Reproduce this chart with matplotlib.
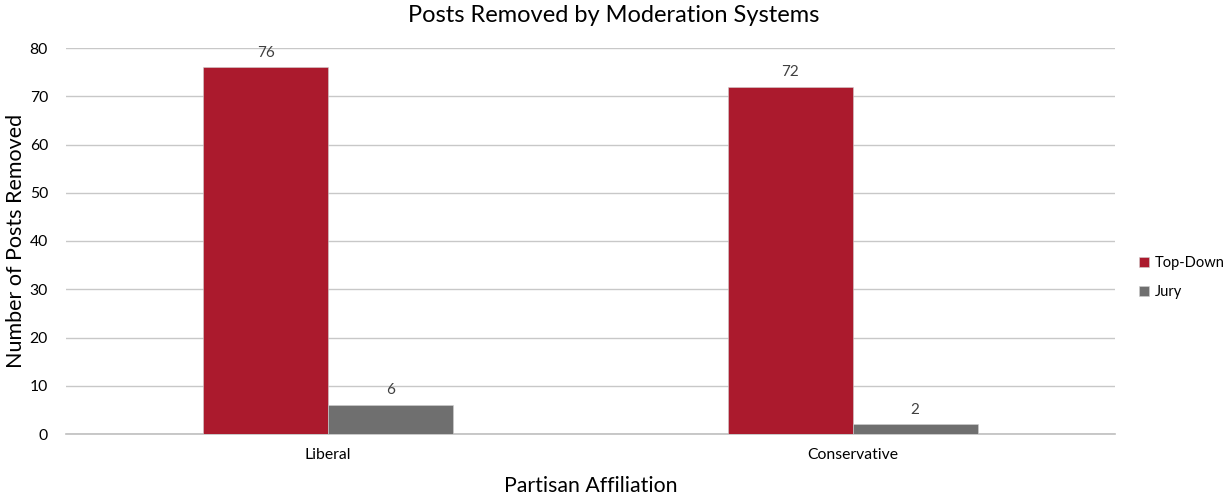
import matplotlib
matplotlib.use("Agg")
import matplotlib.pyplot as plt
import numpy as np

plt.rcParams['font.family'] = ['Lato', 'DejaVu Sans']

categories = ["Liberal", "Conservative"]
series_names = ["Top-Down", "Jury"]
top_down = [76, 72]
jury = [6, 2]
y_ticks = [0, 10, 20, 30, 40, 50, 60, 70, 80]

colors = ["#AB1A2D", "#6F6F6F"]

fig = plt.figure(figsize=(12.28, 4.97), dpi=100)
ax = fig.add_axes([66 / 1228, 63 / 497, (1115 - 66) / 1228, (434 - 48) / 497])

x = np.arange(len(categories))
w = 0.238
series = [top_down, jury]
for i, (name, vals, c) in enumerate(zip(series_names, series, colors)):
    pos = x + (i - 0.5) * w
    bars = ax.bar(pos, vals, width=w, color=c, label=name, zorder=3,
                  edgecolor="#D0D0D0", linewidth=0.4)
    for b, v in zip(bars, vals):
        ax.text(b.get_x() + b.get_width() / 2, v + 1.6, str(v),
                ha="center", va="bottom", fontsize=11, color="#404040")

ax.set_xlim(-0.5, 1.5)
ax.set_ylim(0, 80)
ax.set_yticks(y_ticks)
ax.set_xticks(x)
ax.set_xticklabels(categories)
ax.yaxis.grid(True, color="#C8C8C8", linewidth=1.0, zorder=0)
ax.set_axisbelow(True)
for s in ["top", "right", "left"]:
    ax.spines[s].set_visible(False)
ax.spines["bottom"].set_color("#BFBFBF")
ax.spines["bottom"].set_linewidth(1.2)
ax.tick_params(axis="both", length=0, labelsize=11.3, labelcolor="#000000")
ax.tick_params(axis="y", pad=13)
ax.tick_params(axis="x", pad=10)

ax.set_ylabel("Number of Posts Removed", fontsize=15.5, labelpad=3)
ax.set_xlabel("Partisan Affiliation", fontsize=15.3, labelpad=10)
fig.suptitle("Posts Removed by Moderation Systems", fontsize=17, y=0.99)

ax.legend(loc="center left", bbox_to_anchor=(1.01, 0.405), frameon=False,
          fontsize=10.5, handlelength=0.7, handleheight=0.7, handletextpad=0.4,
          labelspacing=1.0)

fig.savefig("out.png", dpi=100)
